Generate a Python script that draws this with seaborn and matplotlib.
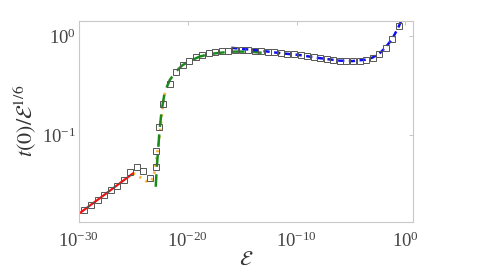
import numpy as np
import matplotlib
matplotlib.use("Agg")
import matplotlib.pyplot as plt
import seaborn as sns

# data (x given as log10 exponent)
sq_exp = [-29.50, -28.90, -28.29, -27.69, -27.09, -26.49, -25.89, -25.29, -24.68, -24.08,
          -23.48, -22.96, -22.87, -22.63, -22.27, -21.67, -21.07, -20.47, -19.87, -19.27,
          -18.66, -18.06, -17.46, -16.86, -16.26, -15.65, -15.05, -14.45, -13.85, -13.24,
          -12.64, -12.04, -11.44, -10.84, -10.24, -9.63, -9.03, -8.43, -7.83, -7.22,
          -6.62, -6.02, -5.42, -4.82, -4.21, -3.61, -3.01, -2.41, -1.81, -1.20, -0.60]
sq_t = [0.0176, 0.0197, 0.0221, 0.0249, 0.0279, 0.0308, 0.0355, 0.0424, 0.0476, 0.0441,
        0.0369, 0.0476, 0.0700, 0.1205, 0.208, 0.329, 0.434, 0.507, 0.564, 0.610,
        0.649, 0.670, 0.686, 0.702, 0.705, 0.718, 0.731, 0.720, 0.710, 0.700,
        0.690, 0.684, 0.675, 0.664, 0.655, 0.644, 0.630, 0.610, 0.596, 0.586,
        0.573, 0.564, 0.560, 0.560, 0.564, 0.577, 0.605, 0.664, 0.762, 0.933, 1.26]

red_exp = [-30.0, -27.5, -25.02]
red_t = [0.0162, 0.0259, 0.0414]

orange_exp = [-25.02, -24.65, -24.25, -23.88, -23.49, -23.18, -23.05, -22.96, -22.82,
              -22.63, -22.41, -22.27, -22.06]
orange_t = [0.0414, 0.0398, 0.0369, 0.0347, 0.0337, 0.0369, 0.0427, 0.0526, 0.0610,
            0.0940, 0.148, 0.210, 0.279]

green_exp = [-22.94, -22.84, -22.72, -22.57, -22.39, -22.11, -21.65, -21.04, -20.46,
             -19.82, -18.90, -17.98, -16.88, -15.69, -14.31, -13.21]
green_t = [0.0303, 0.0479, 0.0711, 0.1186, 0.180, 0.273, 0.361, 0.445, 0.511,
           0.560, 0.622, 0.659, 0.682, 0.698, 0.698, 0.679]

blue_exp = [-15.99, -15.23, -13.39, -11.56, -9.72, -7.89, -6.06, -4.86, -3.67, -3.03,
            -2.39, -1.83, -1.19, -0.64, -0.37]
blue_t = [0.762, 0.748, 0.715, 0.675, 0.644, 0.600, 0.566, 0.560, 0.579, 0.607,
          0.667, 0.766, 0.944, 1.23, 1.43]

sns.set_style("white")
plt.rcParams['font.family'] = ['Liberation Serif', 'DejaVu Serif']
plt.rcParams['mathtext.fontset'] = 'stix'

fig = plt.figure(figsize=(4.84, 2.76), dpi=100)
ax = fig.add_axes([0.163, 0.196, 0.691, 0.729])
ax.set_xscale("log")
ax.set_yscale("log")

def ex(v):
    return [10.0 ** e for e in v]

sns.lineplot(x=ex(red_exp), y=red_t, color="#ee1111", lw=1.6, ax=ax,
             estimator=None, sort=False)
sns.lineplot(x=ex(orange_exp), y=orange_t, color="#f5b533", lw=2.0, ax=ax,
             estimator=None, sort=False, linestyle=(0, (0.8, 1.8)))
sns.lineplot(x=ex(green_exp), y=green_t, color="#1a8a1a", lw=1.8, ax=ax,
             estimator=None, sort=False, linestyle=(0, (5, 3)))
sns.lineplot(x=ex(blue_exp), y=blue_t, color="#1010ee", lw=1.8, ax=ax,
             estimator=None, sort=False, linestyle=(0, (2.5, 1.8)))
ax.plot(ex(sq_exp), sq_t, ls="none", marker="s", ms=3.8, mfc="none",
        mec="#555555", mew=0.7)

ax.set_xlim(1e-30, 10 ** 0.73)
ax.set_ylim(0.0134, 1.43)
ax.set_xticks([1e-30, 1e-20, 1e-10, 1])
ax.set_yticks([0.1, 1])
ax.minorticks_off()
ax.tick_params(direction="in", length=3, width=0.6, color="#bbbbbb",
               top=True, right=True, labelsize=13.5, labelcolor="#444444")
ax.tick_params(axis="x", pad=7)
ax.tick_params(axis="y", pad=2)
for s in ax.spines.values():
    s.set_color("#c8c8c8")
    s.set_linewidth(0.8)

ax.set_xlabel(r"$\mathcal{E}$", fontsize=15, color="#333333", labelpad=0)
ax.set_ylabel(r"$t(0)/\mathcal{E}^{1/6}$", fontsize=16, color="#333333", labelpad=3)

fig.savefig("out.png", dpi=100)
